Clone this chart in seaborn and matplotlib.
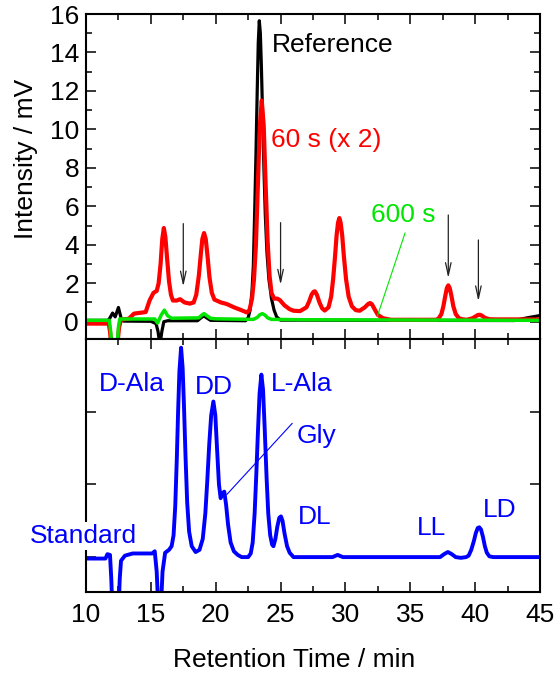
import numpy as np
import pandas as pd
import matplotlib
matplotlib.use("Agg")
import matplotlib.pyplot as plt
import seaborn as sns

# ---------------- data ----------------
ref_t = [10.0, 11.7, 11.85, 12.05, 12.25, 12.5, 12.7, 12.9, 15.0, 15.4, 15.55, 15.7, 15.85,
         16.0, 16.3, 18.6, 18.9, 19.1, 19.3, 19.6, 22.3, 22.5, 22.65, 22.8, 22.9, 23.0,
         23.1, 23.2, 23.28, 23.36, 23.44, 23.52, 23.62, 23.72, 23.82, 23.95, 24.1, 24.3,
         24.5, 24.7, 25.0, 43.0, 44.0, 45.0]
ref_y = [0.07, 0.07, 0.2, 0.45, 0.25, 0.74, 0.2, 0.03, 0.02, -0.1, -0.5, -1.2, -0.5,
         0.0, 0.05, 0.05, 0.22, 0.3, 0.2, 0.07, 0.05, 0.2, 0.6, 1.6, 2.9, 5.6,
         8.6, 12.0, 14.5, 15.65, 15.0, 13.3, 10.6, 7.9, 5.6, 3.6, 2.2, 1.2,
         0.6, 0.25, 0.08, 0.06, 0.2, 0.32]

s60_t = [10.0, 11.75, 11.85, 11.95, 12.4, 12.55, 12.7, 13.3, 13.7, 14.6, 14.9, 15.2, 15.45,
         15.6, 15.75, 15.88, 16.0, 16.12, 16.25, 16.4, 16.55, 16.7, 17.0, 17.25, 17.6,
         18.0, 18.3, 18.5, 18.7, 18.85, 18.97, 19.1, 19.23, 19.37, 19.52, 19.7, 19.9,
         20.4, 20.85, 21.4, 21.9, 22.4, 22.6, 22.8, 22.95, 23.1, 23.25, 23.4, 23.55,
         23.7, 23.85, 24.0, 24.15, 24.3, 24.5, 24.75, 24.95, 25.3, 25.7, 26.0, 26.5,
         27.0, 27.2, 27.4, 27.55, 27.65, 27.8, 28.0, 28.2, 28.4, 28.7, 28.9, 29.05,
         29.2, 29.32, 29.43, 29.53, 29.63, 29.75, 29.88, 30.05, 30.25, 30.5, 30.8, 31.1,
         31.5, 31.75, 31.9, 32.05, 32.25, 32.5, 32.9, 33.5, 37.0, 37.2, 37.4, 37.55,
         37.7, 37.82, 37.93, 38.04, 38.17, 38.32, 38.5, 38.75, 39.0, 39.35, 39.8, 40.05,
         40.22, 40.38, 40.55, 40.75, 41.1, 41.5, 45.0]
s60_y = [-0.1, -0.1, -0.5, -1.3, -1.3, -0.3, 0.12, 0.15, 0.42, 0.5, 1.1, 1.5, 1.6,
         2.0, 3.0, 4.3, 4.87, 4.4, 3.3, 2.1, 1.4, 1.1, 1.1, 1.17, 1.0,
         0.94, 1.0, 1.4, 2.4, 3.5, 4.3, 4.61, 4.3, 3.4, 2.3, 1.5, 1.15,
         1.0, 0.92, 0.75, 0.62, 0.48, 0.6, 1.2, 2.2, 4.0, 7.1, 10.2, 11.5,
         10.2, 7.1, 4.2, 2.4, 1.5, 1.2, 1.2, 1.12, 0.85, 0.65, 0.57, 0.55,
         0.75, 1.05, 1.42, 1.56, 1.58, 1.4, 1.0, 0.7, 0.58, 0.75, 1.3, 2.2,
         3.4, 4.5, 5.15, 5.39, 5.15, 4.5, 3.4, 2.2, 1.3, 0.8, 0.6, 0.57,
         0.75, 0.92, 0.97, 0.9, 0.65, 0.35, 0.18, 0.1, 0.1, 0.18, 0.4, 0.8,
         1.35, 1.75, 1.89, 1.75, 1.35, 0.8, 0.4, 0.18, 0.13, 0.1, 0.18, 0.28,
         0.35, 0.36, 0.3, 0.2, 0.13, 0.12, 0.12]

s600_t = [10.0, 11.8, 11.9, 12.0, 12.4, 12.5, 12.6, 15.3, 15.52, 15.8, 16.04, 16.3, 16.6,
          18.7, 18.9, 19.1, 19.3, 19.6, 20.0, 22.9, 23.2, 23.4, 23.6, 23.8, 24.0, 24.3,
          27.0, 45.0]
s600_y = [0.07, 0.07, -0.5, -1.3, -1.3, -0.3, 0.14, 0.14, -0.07, 0.35, 0.6, 0.3, 0.18,
          0.2, 0.33, 0.42, 0.32, 0.18, 0.15, 0.12, 0.22, 0.36, 0.42, 0.34, 0.2, 0.12,
          0.1, 0.07]

std_t = [10.0, 11.5, 11.65, 11.85, 11.95, 12.05, 12.5, 12.6, 12.7, 13.0, 13.6, 15.1, 15.3,
         15.45, 15.6, 15.75, 15.9, 16.1, 16.4, 16.6, 16.75, 16.88, 17.0, 17.1, 17.2, 17.33,
         17.45, 17.55, 17.67, 17.8, 17.95, 18.15, 18.45, 18.75, 19.0, 19.2, 19.35, 19.5,
         19.65, 19.82, 19.97, 20.1, 20.25, 20.38, 20.52, 20.66, 20.8, 20.95, 21.15, 21.4,
         21.7, 22.0, 22.5, 22.7, 22.85, 23.0, 23.12, 23.25, 23.38, 23.52, 23.65, 23.78,
         23.92, 24.05, 24.2, 24.35, 24.45, 24.6, 24.75, 24.9, 25.03, 25.15, 25.3, 25.5,
         25.7, 26.0, 29.0, 29.4, 29.8, 37.3, 37.6, 37.9, 38.2, 38.5, 38.9, 39.3, 39.5,
         39.7, 39.9, 40.05, 40.2, 40.32, 40.45, 40.6, 40.75, 40.9, 41.1, 41.4, 45.0]
std_y = [-0.02, -0.02, 0.04, 0.03, -0.3, -0.8, -0.8, -0.3, -0.05, 0.02, 0.05, 0.05, 0.08,
         -0.2, -0.8, -0.8, -0.2, 0.06, 0.1, 0.15, 0.3, 0.7, 1.35, 2.0, 2.55, 2.88,
         2.6, 2.1, 1.4, 0.75, 0.35, 0.15, 0.07, 0.1, 0.25, 0.6, 1.05, 1.55,
         1.95, 2.14, 1.95, 1.5, 1.0, 0.81, 0.88, 0.9, 0.72, 0.45, 0.2, 0.08,
         0.03, 0.0, 0.0, 0.05, 0.2, 0.6, 1.1, 1.7, 2.25, 2.51, 2.3, 1.75,
         1.1, 0.6, 0.3, 0.17, 0.15, 0.25, 0.42, 0.54, 0.56, 0.5, 0.33, 0.15,
         0.06, 0.0, 0.0, 0.03, 0.0, 0.0, 0.04, 0.07, 0.04, 0.0, -0.01, 0.0, 0.02,
         0.1, 0.22, 0.33, 0.4, 0.41, 0.38, 0.28, 0.15, 0.06, 0.01, 0.0, 0.0]

arrow_x = [17.5, 25.0, 37.93, 40.25]
arrow_top = [5.1, 5.15, 5.55, 4.25]
arrow_tip = [1.83, 1.92, 2.27, 1.06]

top_labels = ["Reference", "60 s (x 2)", "600 s"]
std_labels = ["D-Ala", "DD", "L-Ala", "Gly", "DL", "LL", "LD"]
std_label_x = [11.03, 18.4, 24.24, 26.2, 26.3, 35.5, 40.6]
std_label_y = [2.28, 2.25, 2.29, 1.57, 0.455, 0.30, 0.556]

x_ticks = [10, 15, 20, 25, 30, 35, 40, 45]
y_ticks = [0, 2, 4, 6, 8, 10, 12, 14, 16]

# ---------------- style ----------------
sns.set_style("ticks")
plt.rcParams["font.family"] = ["Liberation Sans", "DejaVu Sans"]
for k in ("text.color", "axes.labelcolor", "xtick.color", "ytick.color", "axes.edgecolor"):
    plt.rcParams[k] = "black"

W, H = 555, 679
fig = plt.figure(figsize=(W / 100, H / 100), dpi=100)
L, R = 86, 540
ax1 = fig.add_axes([L / W, 1 - 339 / H, (R - L) / W, (339 - 14) / H])
ax2 = fig.add_axes([L / W, 1 - 592 / H, (R - L) / W, (592 - 339) / H])

BLACK, RED, GREEN, BLUE = "#000000", "#ff0000", "#00e600", "#0000ff"
FS = 19

df_ref = pd.DataFrame({"t": ref_t, "y": ref_y})
df_60 = pd.DataFrame({"t": s60_t, "y": s60_y})
df_600 = pd.DataFrame({"t": s600_t, "y": s600_y})
df_std = pd.DataFrame({"t": std_t, "y": std_y})

sns.lineplot(data=df_ref, x="t", y="y", ax=ax1, color=BLACK, lw=2.3, estimator=None, sort=False)
sns.lineplot(data=df_60, x="t", y="y", ax=ax1, color=RED, lw=3.0, estimator=None, sort=False)
sns.lineplot(data=df_600, x="t", y="y", ax=ax1, color=GREEN, lw=2.5, estimator=None, sort=False)
sns.lineplot(data=df_std, x="t", y="y", ax=ax2, color=BLUE, lw=2.8, estimator=None, sort=False)

for ax in (ax1, ax2):
    ax.set_xlim(10, 45)
    ax.set_xticks(x_ticks)
    ax.set_xticks(np.arange(12.5, 45, 5), minor=True)
    ax.tick_params(which="both", direction="in", top=True, right=True, width=1.1,
                   labelsize=FS, color="black", labelcolor="black")
    ax.tick_params(which="major", length=7)
    ax.tick_params(which="minor", length=4)
    ax.set_xlabel("")
    ax.set_ylabel("")
    for s in ax.spines.values():
        s.set_linewidth(1.5)
        s.set_color("black")

ax1.set_ylim(-0.9, 16)
ax1.set_yticks(y_ticks)
ax1.set_yticks(np.arange(1, 16, 2), minor=True)
ax1.tick_params(axis="x", labelbottom=False)
ax1.tick_params(axis="y", pad=5)

ax2.set_ylim(-0.48, 3.0)
ax2.set_yticks([0, 1, 2, 3])
ax2.tick_params(axis="y", labelleft=False)
ax2.tick_params(axis="x", pad=8)

# arrows
for xa, yt, yb in zip(arrow_x, arrow_top, arrow_tip):
    ax1.annotate("", xy=(xa, yb), xytext=(xa, yt),
                 arrowprops=dict(arrowstyle="->,head_length=0.9,head_width=0.2",
                                 color="#222222", lw=0.9, mutation_scale=10,
                                 shrinkA=0, shrinkB=0))

ax1.text(24.3, 14.04, top_labels[0], color=BLACK, fontsize=FS, va="baseline", ha="left")
ax1.text(24.24, 9.11, top_labels[1], color=RED, fontsize=FS, va="baseline", ha="left")
ax1.text(32.0, 5.21, top_labels[2], color=GREEN, fontsize=FS, va="baseline", ha="left")
ax1.plot([34.6, 32.46], [4.62, 0.28], color=GREEN, lw=0.8)

for lab, xx, yy in zip(std_labels, std_label_x, std_label_y):
    ax2.text(xx, yy, lab, color=BLUE, fontsize=FS, va="baseline", ha="left")
ax2.plot([25.9, 20.85], [1.84, 0.86], color=BLUE, lw=0.8)
ax2.text(5.68, 0.19, "Standard", color=BLUE, fontsize=FS, va="baseline", ha="left",
         bbox=dict(facecolor="white", edgecolor="none", pad=1.5), clip_on=False, zorder=5)

fig.text(26 / W, 1 - 159 / H, "Intensity / mV", rotation=90, ha="center", va="center",
         fontsize=FS)
fig.text(294 / W, 1 - 660 / H, "Retention Time / min", ha="center", va="center", fontsize=FS)

fig.savefig("out.png", dpi=100)
